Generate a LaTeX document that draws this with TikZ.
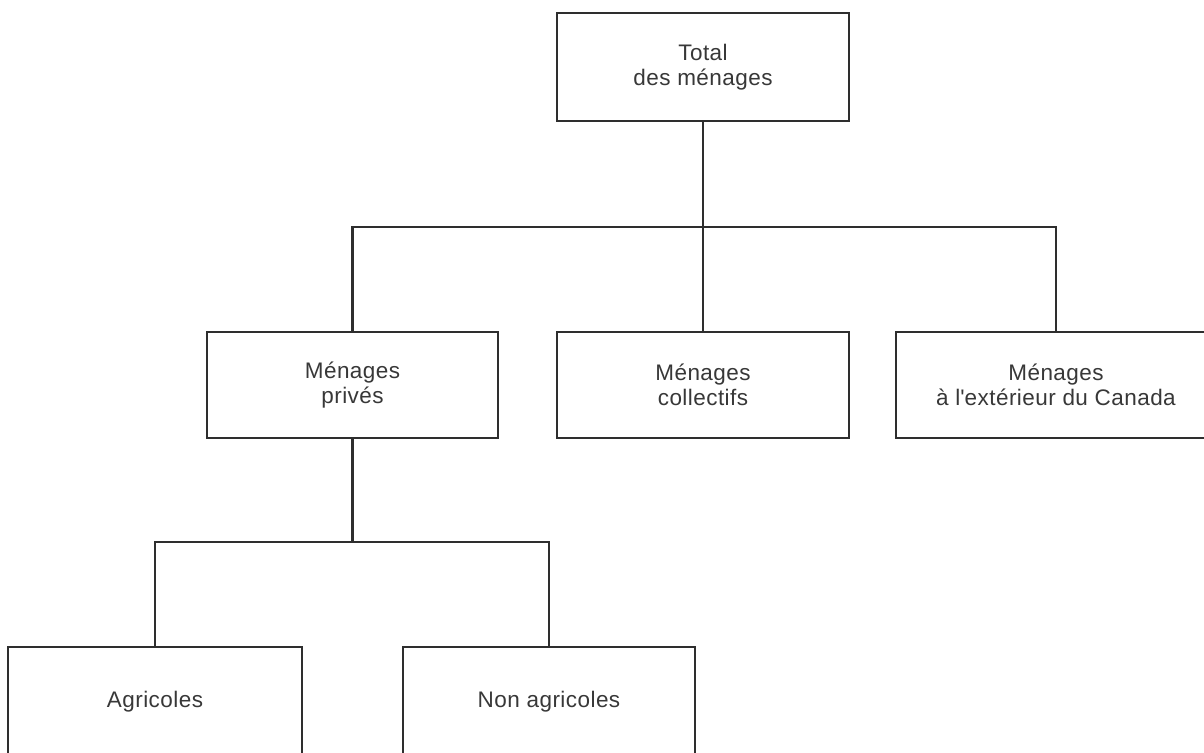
\documentclass[tikz,border=0pt]{standalone}
\usepackage{fontspec}
\setmainfont{Liberation Sans}[LetterSpace=2]
\begin{document}
\begin{tikzpicture}[x=1pt,y=-1pt,
  box/.style={draw=black!82, line width=2.6pt, rectangle, inner sep=0pt,
    align=center, text=black!78, font=\fontsize{22.5}{24.5}\selectfont},
  link/.style={draw=black!82, line width=2.6pt}]
  \useasboundingbox (0,0) rectangle (1204,752);
  \clip (0,0) rectangle (1204,752);
  \fill[white] (0,0) rectangle (1204,752);

  % tree of household categories
  \node[box, minimum width=292pt, minimum height=108pt] (tot) at (703,67) {Total\\des ménages};
  \node[box, minimum width=291pt, minimum height=106pt] (prv) at (352.5,385) {Ménages\\privés};
  \node[box, minimum width=292pt, minimum height=106pt] (col) at (703,385) {Ménages\\collectifs};
  \node[box, minimum width=320pt, minimum height=106pt] (ext) at (1056,385) {Ménages\\à l\textquotesingle extérieur du Canada};
  \node[box, minimum width=294pt, minimum height=110pt] (agr) at (155,702) {Agricoles};
  \node[box, minimum width=292pt, minimum height=110pt] (nag) at (549,702) {Non agricoles};

  % junction points of the two bus lines
  \coordinate (bus1) at (703,227);
  \coordinate (bus2) at (352.5,542);

  \draw[link] (tot.south) -- (bus1);
  \draw[link] (bus1) -- (col.north);
  \draw[link] (prv.north) -- (prv.north |- bus1) -| (ext.north);
  \draw[link] (prv.south) -- (bus2);
  \draw[link] (agr.north) -- (agr.north |- bus2) -| (nag.north);
\end{tikzpicture}
\end{document}
